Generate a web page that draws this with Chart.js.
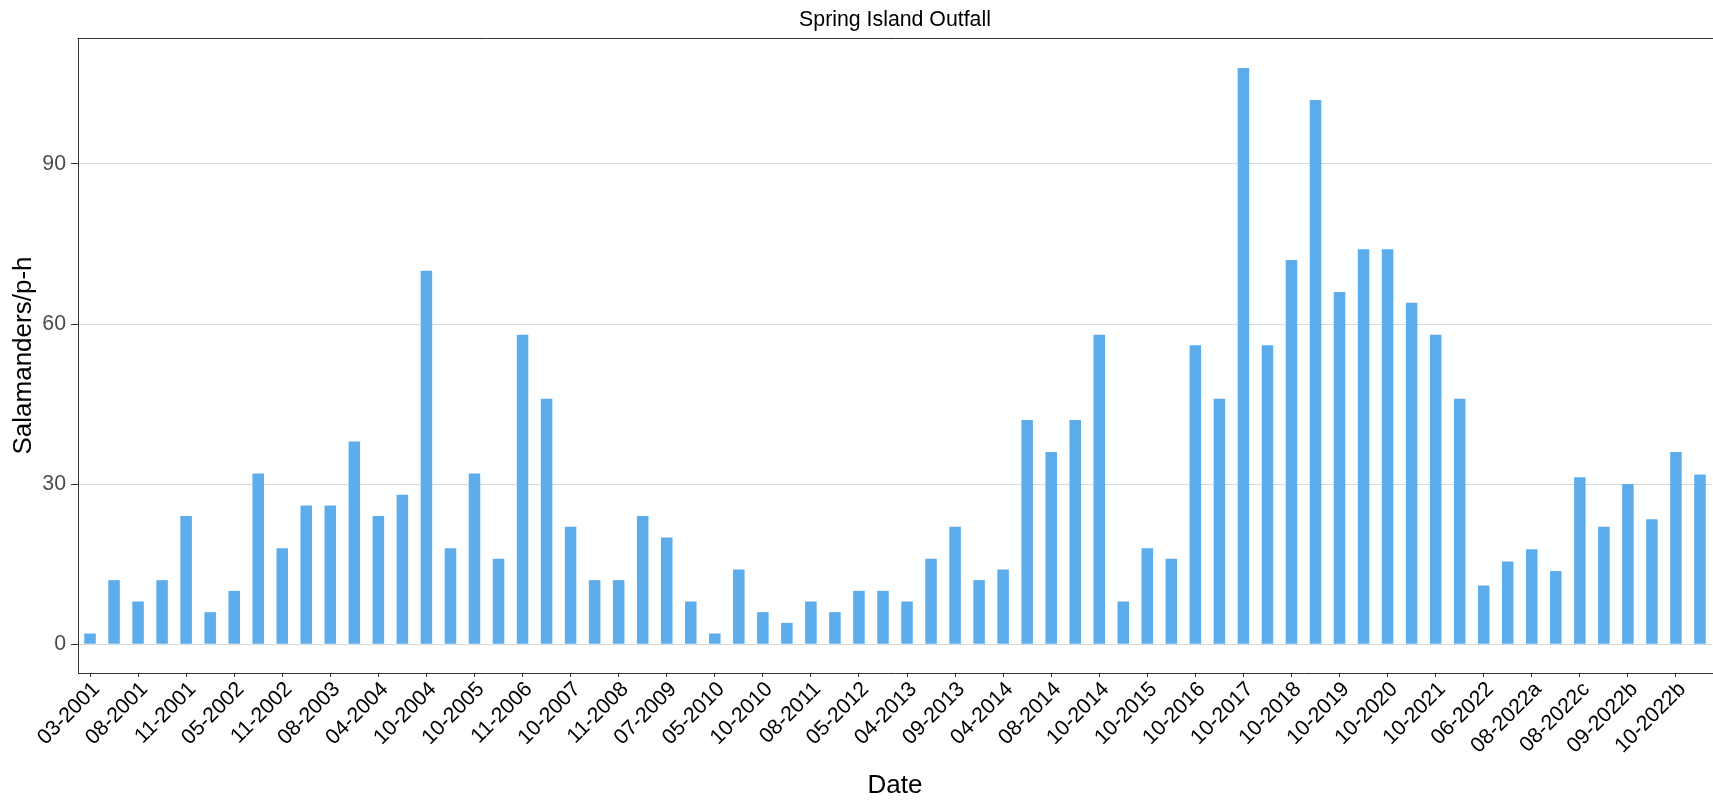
<!DOCTYPE html>
<html><head><meta charset="utf-8">
<script src="https://cdn.jsdelivr.net/npm/chart.js@4.4.0/dist/chart.umd.min.js"></script>
<style>html,body{margin:0;padding:0;background:#fff;} canvas{display:block;}</style>
</head><body>
<canvas id="c" width="1713" height="801"></canvas>
<script>
const chartTitle = 'Spring Island Outfall';
const xTitle = 'Date';
const yTitle = 'Salamanders/p-h';
// visible tick labels (every other bar is labelled)
const tickLabels = ['03-2001','08-2001','11-2001','05-2002','11-2002','08-2003','04-2004','10-2004',
  '10-2005','11-2006','10-2007','11-2008','07-2009','05-2010','10-2010','08-2011','05-2012',
  '04-2013','09-2013','04-2014','08-2014','10-2014','10-2015','10-2016','10-2017','10-2018',
  '10-2019','10-2020','10-2021','06-2022','08-2022a','08-2022c','09-2022b','10-2022b'];
const values = [2,12,8,12,24,6,10,32,18,26,
  26,38,24,28,70,18,32,16,58,46,
  22,12,12,24,20,8,2,14,6,4,
  8,6,10,10,8,16,22,12,14,42,
  36,42,58,8,18,16,56,46,108,56,
  72,102,66,74,74,64,58,46,11,15.5,
  17.8,13.7,31.3,22,30,23.4,36,31.8];
const yTicks = [0,30,60,90];
const yMin = -5.4, yMax = 113.6;

const categories = values.map((v,i) => i % 2 === 0 ? tickLabels[i/2] : '');

const FONT = "'Liberation Sans', Arial, sans-serif";
Chart.defaults.font.family = FONT;

const frame = {
  id: 'frame',
  afterDraw(chart) {
    const {ctx, chartArea} = chart;
    ctx.save();
    ctx.strokeStyle = '#333333';
    ctx.lineWidth = 1;
    ctx.beginPath();
    ctx.moveTo(chartArea.left - 0.5, 38.5);
    ctx.lineTo(1713, 38.5);
    ctx.stroke();
    ctx.fillStyle = '#000000';
    ctx.font = '21.3px ' + FONT;
    ctx.textAlign = 'center';
    ctx.textBaseline = 'alphabetic';
    ctx.fillText(chartTitle, (chartArea.left + chartArea.right) / 2, 26);
    ctx.restore();
  }
};

new Chart(document.getElementById('c'), {
  type: 'bar',
  data: {
    labels: categories,
    datasets: [{
      data: values,
      backgroundColor: '#5DADEC',
      borderWidth: 0,
      barPercentage: 0.48,
      categoryPercentage: 1.0
    }]
  },
  options: {
    responsive: false,
    animation: false,
    devicePixelRatio: 1,
    layout: { padding: { top: 38, right: 1, left: 0, bottom: 0 } },
    plugins: { legend: { display: false }, tooltip: { enabled: false }, title: { display: false } },
    scales: {
      x: {
        type: 'category',
        offset: true,
        grid: { display: true, drawOnChartArea: false, drawTicks: true, tickLength: 4, tickColor: '#333333', offset: false },
        border: { display: true, color: '#333333', width: 1 },
        ticks: {
          autoSkip: false, minRotation: 45, maxRotation: 45, padding: 0, labelOffset: 6.5,
          color: '#000000', font: { size: 21.3 },
          callback: function(val, idx) { return idx % 2 === 0 ? this.getLabelForValue(val) : null; }
        },
        title: { display: true, text: xTitle, color: '#000000', font: { size: 26 }, padding: { top: 0, bottom: 0 } },
        afterFit(scale) { scale.height = 128; scale.paddingLeft = 0; scale.paddingRight = 0; }
      },
      y: {
        min: yMin, max: yMax,
        grid: { color: '#d9d9d9', lineWidth: 1, drawTicks: true, tickLength: 7, tickColor: '#333333' },
        border: { display: true, color: '#333333', width: 1 },
        ticks: { color: '#4d4d4d', font: { size: 21.3 }, padding: 5 },
        afterBuildTicks(scale) { scale.ticks = yTicks.map(v => ({ value: v })); },
        title: { display: true, text: yTitle, color: '#000000', font: { size: 26 }, padding: { top: 8, bottom: 0 } },
        afterFit(scale) { scale.width = 78; }
      }
    }
  },
  plugins: [frame]
});
</script>
</body></html>
